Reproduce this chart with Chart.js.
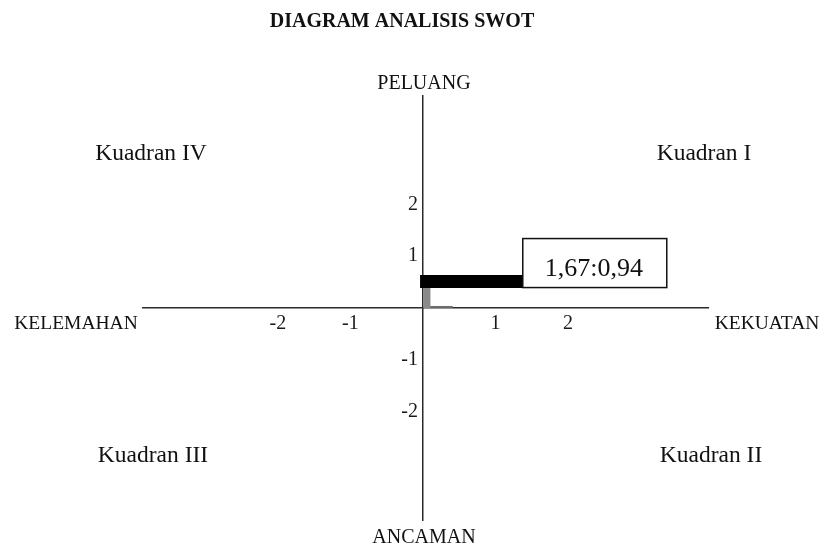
<!DOCTYPE html>
<html>
<head>
<meta charset="utf-8">
<script src="https://cdn.jsdelivr.net/npm/chart.js@4.4.1/dist/chart.umd.min.js"></script>
<style>
  body { margin: 0; background: #fff; }
  #wrap { width: 824px; height: 548px; }
</style>
</head>
<body>
<div id="wrap"><canvas id="swotChart" width="824" height="548"></canvas></div>
<script>
// SWOT values
const xTicks = [-2, -1, 1, 2];
const yTicks = [-2, -1, 1, 2];
const xRange = [-3.86, 3.93];
const yRange = [-4.09, 4.09];

// thick marker bar and small grey marks
const barX = [-0.04, 1.39];
const barY = [0.51, 0.51];
const stemX = [0.055, 0.055];
const stemY = [0, 0.39];
const baseX = [0, 0.41];
const baseY = [0.02, 0.02];

const pointLabel = '1,67:0,94';
const axisLabels = { top: 'PELUANG', bottom: 'ANCAMAN', left: 'KELEMAHAN', right: 'KEKUATAN' };
const quadrantLabels = ['Kuadran I', 'Kuadran II', 'Kuadran III', 'Kuadran IV'];

function toPoints(xs, ys) {
    return xs.map((x, i) => ({ x: x, y: ys[i] }));
}

const serif = "'Liberation Serif', 'Times New Roman', serif";

// draws title, axis names, quadrant names and the value box
const swotText = {
    id: 'swotText',
    afterDatasetsDraw(chart) {
        const ctx = chart.ctx;
        const xs = chart.scales.x;
        const ys = chart.scales.y;
        const area = chart.chartArea;
        const ox = xs.getPixelForValue(0);
        const oy = ys.getPixelForValue(0);

        ctx.save();
        ctx.fillStyle = '#111';
        ctx.textBaseline = 'alphabetic';
        ctx.textAlign = 'center';

        ctx.font = 'bold 20px ' + serif;
        ctx.fillText('DIAGRAM ANALISIS SWOT', 402, 27);

        ctx.font = '20px ' + serif;
        ctx.fillText(axisLabels.top, ox + 1, area.top - 7);
        ctx.fillText(axisLabels.bottom, ox + 1, area.bottom + 23);
        ctx.font = '19.5px ' + serif;
        ctx.fillText(axisLabels.left, 76, oy + 21);
        ctx.fillText(axisLabels.right, 767, oy + 21);

        ctx.font = '23.5px ' + serif;
        ctx.fillText(quadrantLabels[3], 151, 160);
        ctx.fillText(quadrantLabels[0], 704, 160);
        ctx.fillText(quadrantLabels[2], 153, 462);
        ctx.fillText(quadrantLabels[1], 711, 462);

        // value box sits at the end of the bar
        const bx = xs.getPixelForValue(barX[1]) - 1;
        const bBottom = ys.getPixelForValue(barY[1]) + 6;
        const bw = 144, bh = 49;
        ctx.fillStyle = '#fff';
        ctx.fillRect(bx, bBottom - bh, bw, bh);
        ctx.strokeStyle = '#111';
        ctx.lineWidth = 1.5;
        ctx.strokeRect(bx, bBottom - bh, bw, bh);
        ctx.fillStyle = '#111';
        ctx.font = '26px ' + serif;
        ctx.fillText(pointLabel, bx + bw / 2 - 1, bBottom - 12);
        ctx.restore();
    }
};

const ctx = document.getElementById('swotChart').getContext('2d');
new Chart(ctx, {
    type: 'scatter',
    data: {
        datasets: [
            {
                data: toPoints(barX, barY),
                showLine: true,
                borderColor: '#000',
                borderWidth: 13,
                borderCapStyle: 'butt',
                pointRadius: 0
            },
            {
                data: toPoints(stemX, stemY),
                showLine: true,
                borderColor: '#8a8a8a',
                borderWidth: 7,
                pointRadius: 0
            },
            {
                data: toPoints(baseX, baseY),
                showLine: true,
                borderColor: '#6e6e6e',
                borderWidth: 2,
                pointRadius: 0
            }
        ]
    },
    options: {
        responsive: false,
        devicePixelRatio: 1,
        animation: false,
        layout: { padding: { left: 143, right: 116, top: 96, bottom: 28 } },
        plugins: {
            legend: { display: false },
            tooltip: { enabled: false },
            title: { display: false }
        },
        scales: {
            x: {
                type: 'linear',
                position: { y: 0 },
                min: xRange[0],
                max: xRange[1],
                afterBuildTicks: scale => { scale.ticks = xTicks.map(v => ({ value: v })); },
                grid: { display: false, drawTicks: false },
                border: { display: true, color: '#2a2a2a', width: 1.5 },
                ticks: {
                    padding: 4,
                    color: '#1a1a1a',
                    font: { family: serif, size: 20 }
                }
            },
            y: {
                type: 'linear',
                position: { x: 0 },
                min: yRange[0],
                max: yRange[1],
                afterBuildTicks: scale => { scale.ticks = yTicks.map(v => ({ value: v })); },
                grid: { display: false, drawTicks: false },
                border: { display: true, color: '#2a2a2a', width: 1.5 },
                ticks: {
                    // centred axis ignores padding, so leave a gap with a trailing space
                    callback: value => value + ' ',
                    color: '#1a1a1a',
                    font: { family: serif, size: 20 }
                }
            }
        }
    },
    plugins: [swotText]
});
</script>
</body>
</html>
